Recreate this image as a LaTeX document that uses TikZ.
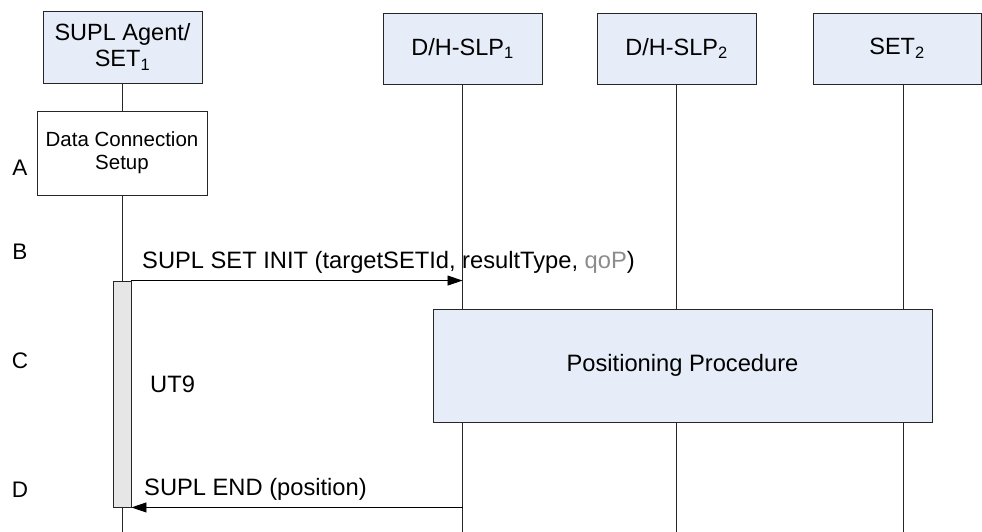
\documentclass[tikz,border=0pt]{standalone}
\usepackage{fontspec}
\setmainfont{Liberation Sans}
\usetikzlibrary{arrows.meta,positioning}
\definecolor{hdrblue}{HTML}{E6EDF8}
\definecolor{barfill}{HTML}{E6E6E6}
\definecolor{qopgray}{HTML}{8C8C8C}
\tikzset{
  entity/.style={draw=black!85,fill=hdrblue,line width=0.9pt,minimum width=159pt,
    minimum height=71pt,align=center,inner sep=0pt,font=\fontsize{23.5}{26}\selectfont},
  lifeline/.style={line width=0.9pt,draw=black!85},
  msg/.style={-{Triangle[length=15pt,width=10pt]},line width=0.9pt,draw=black},
  msglabel/.style={anchor=base west,inner sep=0pt,font=\fontsize{23.7}{26}\selectfont},
  steplabel/.style={inner sep=0pt,font=\fontsize{22.5}{25}\selectfont}
}
\begin{document}
\begin{tikzpicture}[x=1pt,y=-1pt]
  \useasboundingbox (0,0) rectangle (982,532);
  \coordinate (bottom) at (0,532);
  % entities
  \node[entity,minimum height=72pt] (set1) at (122.5,47) {SUPL Agent/\\SET\textsubscript{1}};
  \node[entity] (slp1) at (462.5,48.5) {D/H-SLP\textsubscript{1}};
  \node[entity] (slp2) at (676.5,48.5) {D/H-SLP\textsubscript{2}};
  \node[entity,minimum width=168pt] (set2) at (897,48.5) {SET\textsubscript{2}};
  \coordinate (set2life) at ([xshift=6pt]set2.south);
  % lifelines
  \draw[lifeline] (set1.south) -- (set1.south |- bottom);
  \draw[lifeline] (slp1.south) -- (slp1.south |- bottom);
  \draw[lifeline] (slp2.south) -- (slp2.south |- bottom);
  \draw[lifeline] (set2life) -- (set2life |- bottom);
  % A
  \node[draw=black!85,fill=white,line width=0.9pt,minimum width=170pt,minimum height=84pt,
    align=center,inner sep=0pt,font=\fontsize{20.5}{23}\selectfont] (dcs) at (122,153)
    {Data Connection\\Setup};
  % B .. D
  \node[draw=black!85,fill=barfill,line width=0.9pt,minimum width=18pt,minimum height=226pt,
    inner sep=0pt] (ut9bar) at (122,394) {};
  \draw[msg] (ut9bar.north east) -- (ut9bar.north east -| slp1.south);
  \node[msglabel] (initmsg) at (142,268) {SUPL SET INIT (targetSETId, resultType, \textcolor{qopgray}{qoP})};
  \node[draw=black!85,fill=hdrblue,line width=0.9pt,minimum width=499pt,minimum height=113pt,
    inner sep=0pt,font=\fontsize{23.7}{26}\selectfont] (posproc) at (682.5,365.5) {Positioning Procedure};
  \node[msglabel] (ut9) at (150,392) {UT9};
  \draw[msg] (ut9bar.south east -| slp1.south) -- (ut9bar.south east);
  \node[msglabel] (endmsg) at (144,495) {SUPL END (position)};
  % step letters
  \node[steplabel] (stepA) at (20,168) {A};
  \node[steplabel] (stepB) at (20,252) {B};
  \node[steplabel] (stepC) at (20,361) {C};
  \node[steplabel] (stepD) at (20,490) {D};
\end{tikzpicture}
\end{document}
